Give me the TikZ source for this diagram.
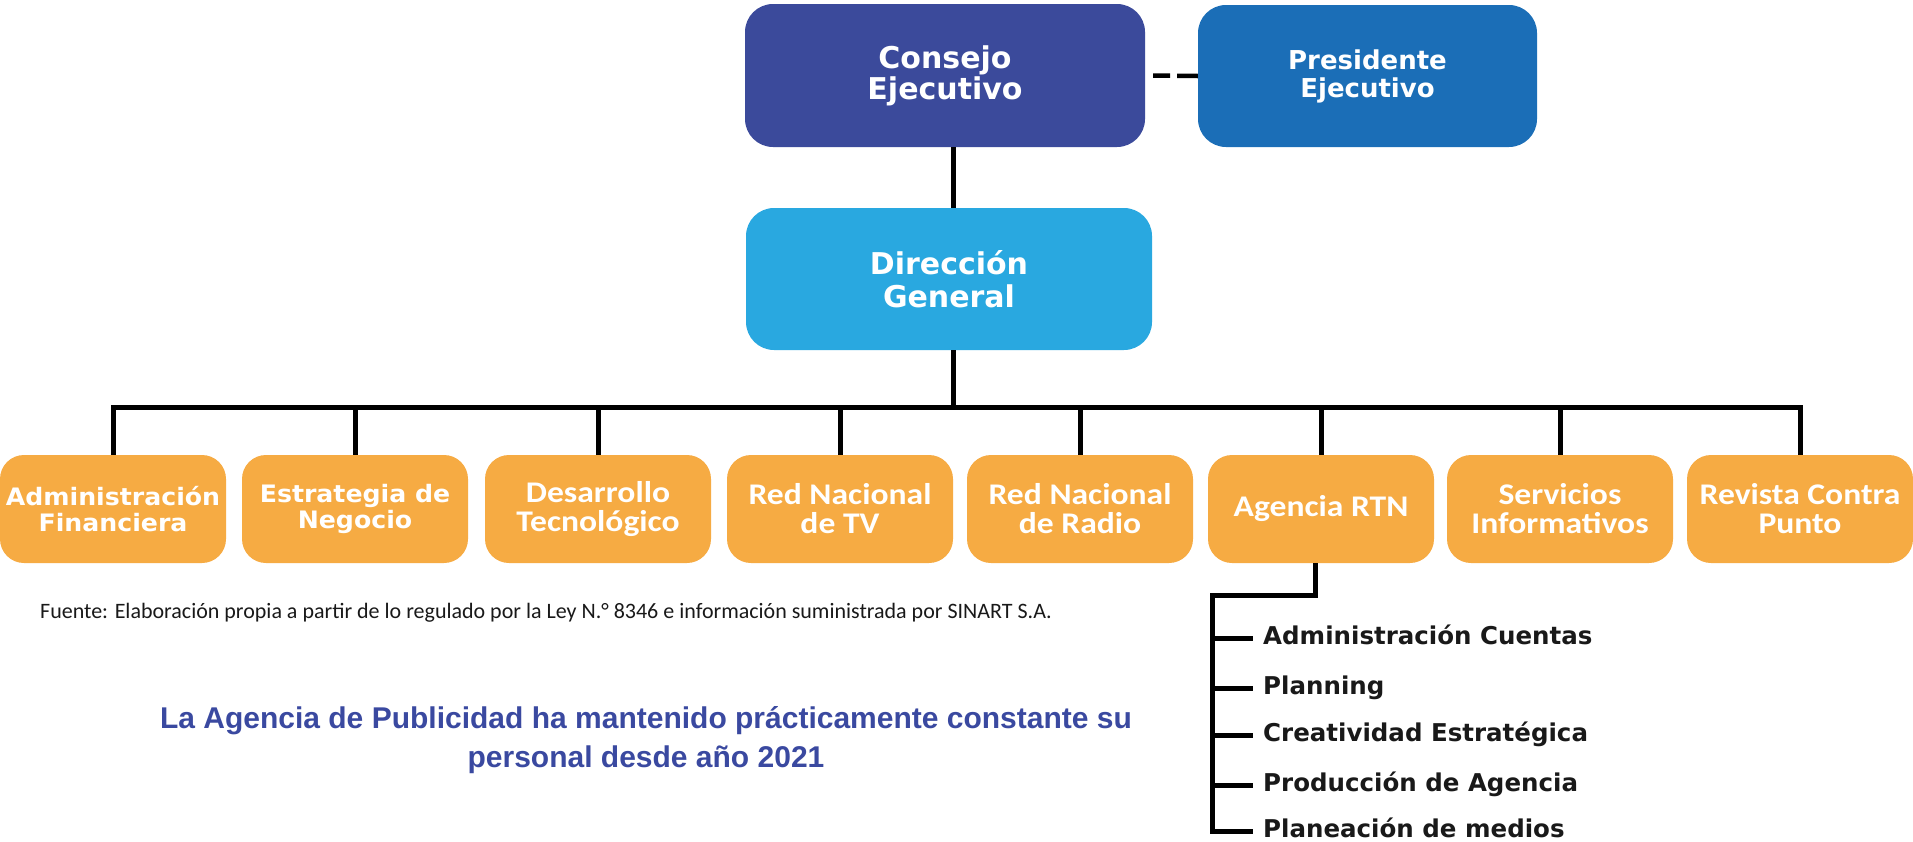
\documentclass[tikz,border=0pt]{standalone}
\usepackage{fontspec}
\setmainfont{Carlito}
\newfontfamily\dvfont{DejaVu Sans}
\newfontfamily\dvwide[FakeStretch=1.05]{DejaVu Sans}
\newfontfamily\cbwide[FakeStretch=1.12]{Carlito}
\newfontfamily\libfont{Liberation Sans}
\definecolor{cdark}{HTML}{3B4A9B}
\definecolor{cpres}{HTML}{1B6EB7}
\definecolor{cdir}{HTML}{29A8E0}
\definecolor{corange}{HTML}{F6AB43}
\definecolor{ctitle}{HTML}{3A49A0}
\begin{document}
\begin{tikzpicture}[x=1pt,y=-1pt,
  topbox/.style={rounded corners=28pt, inner sep=0pt, align=center, text=white},
  obox/.style={rounded corners=24pt, minimum width=226pt, minimum height=108pt, inner sep=0pt, align=center, text=white, fill=corange},
  dvt/.style={font=\dvwide\bfseries\fontsize{24}{26}\selectfont},
  cbt/.style={font=\cbwide\bfseries\fontsize{30}{29}\selectfont},
  conn/.style={line width=5pt, black},
  subitem/.style={anchor=west, inner sep=0pt, text height=13pt, text depth=0pt, font=\dvfont\bfseries\fontsize{24.5}{26}\selectfont, text=black!90},
]
\useasboundingbox (0,0) rectangle (1913,841);

% top level
\node[topbox, fill=cdark, minimum width=400pt, minimum height=143pt,
      font=\dvfont\bfseries\fontsize{30}{31}\selectfont] (cons) at (945,75.5) {Consejo\\Ejecutivo};
\node[topbox, fill=cpres, minimum width=339pt, minimum height=142pt,
      font=\dvfont\bfseries\fontsize{26}{28}\selectfont] (pres) at (1367.5,76) {Presidente\\Ejecutivo};
\node[topbox, fill=cdir, minimum width=406pt, minimum height=142pt,
      font=\dvfont\bfseries\fontsize{30}{33}\selectfont] (dir) at (949,279) {Dirección\\General};

% second level
\node[obox, dvt] (b1) at (113,509) {Administración\\Financiera};
\node[obox, dvt] (b2) at (355,509) {Estrategia de\\Negocio};
\node[obox, cbt] (b3) at (598,509) {Desarrollo\\Tecnológico};
\node[obox, cbt] (b4) at (840,509) {Red Nacional\\de TV};
\node[obox, cbt] (b5) at (1080,509) {Red Nacional\\de Radio};
\node[obox, cbt] (b6) at (1321,509) {Agencia RTN};
\node[obox, cbt] (b7) at (1560,509) {Servicios\\Informativos};
\node[obox, cbt] (b8) at (1800,509) {Revista Contra\\Punto};

% connectors top
\draw[line width=4.5pt, dash pattern=on 0pt off 8pt on 17pt off 7pt on 30pt] (cons.east) -- (pres.west);
\coordinate (bus) at (953,407);
\draw[conn] (cons.south -| bus) -- (dir.north -| bus);
\draw[conn] (dir.south -| bus) -- (bus);
\draw[conn, line cap=rect] (b1.north |- bus) -- (b8.north |- bus);
\foreach \b in {b1,b2,b3,b4,b5,b6,b7,b8}{
  \draw[conn] (\b.north |- bus) -- (\b.north);
}

% Agencia RTN sub-items
\node[subitem] (s1) at (1263,638) {Administración Cuentas};
\node[subitem] (s2) at (1263,688) {Planning};
\node[subitem] (s3) at (1263,735) {Creatividad Estratégica};
\node[subitem] (s4) at (1263,785) {Producción de Agencia};
\node[subitem] (s5) at (1263,831) {Planeación de medios};
\coordinate (elbow) at (1212,595);
\draw[conn, line join=miter] ([xshift=-6pt]b6.south) |- (elbow) -- (elbow |- s5.west) -- ([xshift=-10pt]s5.west);
\foreach \s in {s1,s2,s3,s4}{
  \draw[conn] (elbow |- \s.west) -- ([xshift=-10pt]\s.west);
}

% texts
\node[anchor=base west, inner sep=0pt, font=\fontsize{22}{26}\selectfont, text=black!90] (src) at (40,618)
  {Fuente: Elaboración propia a partir de lo regulado por la Ley N.° 8346 e información suministrada por SINART S.A.};
\node[align=center, inner sep=0pt, text=ctitle, font=\libfont\bfseries\fontsize{30}{39}\selectfont] (title) at (646,740)
  {La Agencia de Publicidad ha mantenido prácticamente constante su\\personal desde año 2021};
\end{tikzpicture}
\end{document}
